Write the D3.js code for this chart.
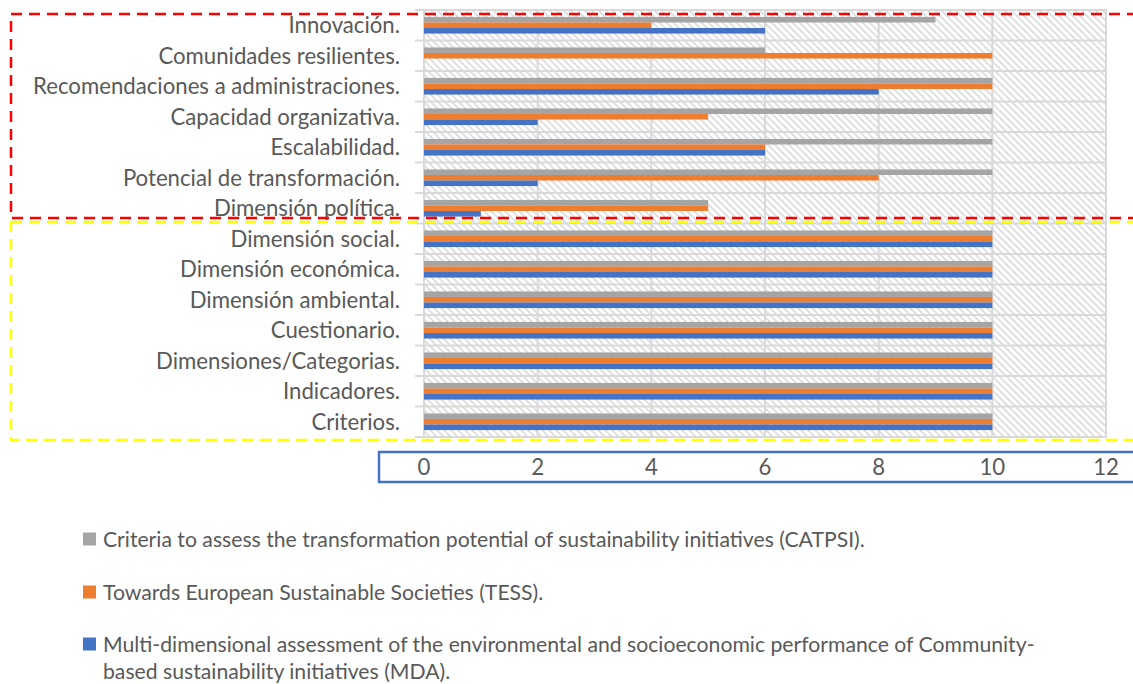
<!DOCTYPE html>
<html><head><meta charset="utf-8">
<script src="https://cdn.jsdelivr.net/npm/d3@7"></script>
<style>body{margin:0;background:#fff}svg{display:block}</style>
</head><body>
<svg id="c" width="1133" height="684"></svg>
<script>
const categories = ["Innovación.","Comunidades resilientes.","Recomendaciones a administraciones.","Capacidad organizativa.","Escalabilidad.","Potencial de transformación.","Dimensión política.","Dimensión social.","Dimensión económica.","Dimensión ambiental.","Cuestionario.","Dimensiones/Categorias.","Indicadores.","Criterios."];
const seriesNames = ["Criteria to assess the transformation potential of sustainability initiatives (CATPSI).","Towards European Sustainable Societies (TESS).","Multi-dimensional assessment of the environmental and socioeconomic performance of Community-based sustainability initiatives (MDA)."];
const catpsi = [9,6,10,10,10,10,5,10,10,10,10,10,10,10];
const tess   = [4,10,10,5,6,8,5,10,10,10,10,10,10,10];
const mda    = [6,0,8,2,6,2,1,10,10,10,10,10,10,10];
const xTicks = [0,2,4,6,8,10,12];
const colors = ["#A5A5A5","#ED7D31","#4472C4"];

const svg = d3.select("#c");
const FONT = "Lato, 'Open Sans', sans-serif";
const TXT = "#595959";
const CAT_FS = "22.2px", LEG_FS = "21.2px";
const x = d3.scaleLinear().domain([0,12]).range([424,1106]);
const y0 = d3.scaleBand().domain(categories).range([10,437]).padding(0);
const keys = ["catpsi","tess","mda"];
const y1 = d3.scaleBand().domain(keys).range([0,y0.bandwidth()]).paddingInner(0).paddingOuter(1.25);
const data = categories.map((c,i)=>({cat:c, catpsi:catpsi[i], tess:tess[i], mda:mda[i]}));

// hatch pattern
const defs = svg.append("defs");
const pat = defs.append("pattern").attr("id","hatch").attr("patternUnits","userSpaceOnUse").attr("width",7).attr("height",7);
pat.append("rect").attr("width",7).attr("height",7).attr("fill","#fff");
pat.append("path").attr("d","M-1,-1 L8,8 M-8,-1 L1,8 M6,-1 L15,8").attr("stroke","#dcdcdc").attr("stroke-width",1.6);

svg.append("rect").attr("x",x(0)).attr("y",10).attr("width",x(12)-x(0)).attr("height",427).attr("fill","url(#hatch)");

// vertical gridlines
svg.append("g").selectAll("line").data(xTicks).join("line")
  .attr("x1",d=>x(d)).attr("x2",d=>x(d)).attr("y1",10).attr("y2",437)
  .attr("stroke","#d9d9d9").attr("stroke-width",2);
// horizontal row lines (with outside ticks)
const bounds = categories.map(c=>y0(c)).concat([y0.range()[1]]);
svg.append("g").selectAll("line").data(bounds).join("line")
  .attr("x1",415).attr("x2",x(12)).attr("y1",d=>d).attr("y2",d=>d)
  .attr("stroke","#d9d9d9").attr("stroke-width",2);
svg.append("rect").attr("x",x(0)).attr("y",10).attr("width",x(12)-x(0)).attr("height",427)
  .attr("fill","none").attr("stroke","#d9d9d9").attr("stroke-width",2);

// bars
const g = svg.append("g");
data.forEach(d=>{
  keys.forEach((k,j)=>{
    if(d[k]>0) g.append("rect").attr("x",x(0)).attr("y",y0(d.cat)+y1(k)).attr("width",x(d[k])-x(0)).attr("height",y1.bandwidth()).attr("fill",colors[j]);
  });
});

// category labels
const catG = svg.append("g");
catG.selectAll("text").data(categories).join("text")
  .attr("x",400).attr("y",d=>y0(d)+y0.bandwidth()/2).attr("dy","0.36em")
  .attr("text-anchor","end").attr("fill",TXT).style("font-family",FONT).style("font-size",CAT_FS).text(d=>d);

// axis box and labels
svg.append("rect").attr("x",379).attr("y",452).attr("width",800).attr("height",30).attr("fill","none").attr("stroke","#4472C4").attr("stroke-width",2.5);
svg.append("g").selectAll("text").data(xTicks).join("text")
  .attr("x",d=>x(d)).attr("y",467).attr("dy","0.36em").attr("text-anchor","middle")
  .attr("fill",TXT).style("font-family",FONT).style("font-size",CAT_FS).text(d=>d);

// dashed boxes
svg.append("rect").attr("x",11).attr("y",14).attr("width",1200).attr("height",204).attr("fill","none")
  .attr("stroke","#FF0000").attr("stroke-width",2.5).attr("stroke-dasharray","11,7");
svg.append("rect").attr("x",11).attr("y",222).attr("width",1200).attr("height",218).attr("fill","none")
  .attr("stroke","#FFFF00").attr("stroke-width",2.5).attr("stroke-dasharray","11,7");

// legend
const legRows = [539, 592, 644];
const lg = svg.append("g");
seriesNames.forEach((s,i)=>{
  lg.append("rect").attr("x",83).attr("y",legRows[i]-6.5).attr("width",13).attr("height",13).attr("fill",colors[i]);
});
lg.append("text").attr("x",103).attr("y",legRows[0]).attr("dy","0.36em").attr("fill",TXT).style("font-family",FONT).style("font-size",LEG_FS).text(seriesNames[0]);
lg.append("text").attr("x",103).attr("y",legRows[1]).attr("dy","0.36em").attr("fill",TXT).style("font-family",FONT).style("font-size",LEG_FS).text(seriesNames[1]);
const parts = seriesNames[2].split("Community-");
lg.append("text").attr("x",103).attr("y",legRows[2]).attr("dy","0.36em").attr("fill",TXT).style("font-family",FONT).style("font-size",LEG_FS).text(parts[0]+"Community-");
lg.append("text").attr("x",103).attr("y",671).attr("dy","0.36em").attr("fill",TXT).style("font-family",FONT).style("font-size",LEG_FS).text(parts[1]);
</script>
</body></html>
